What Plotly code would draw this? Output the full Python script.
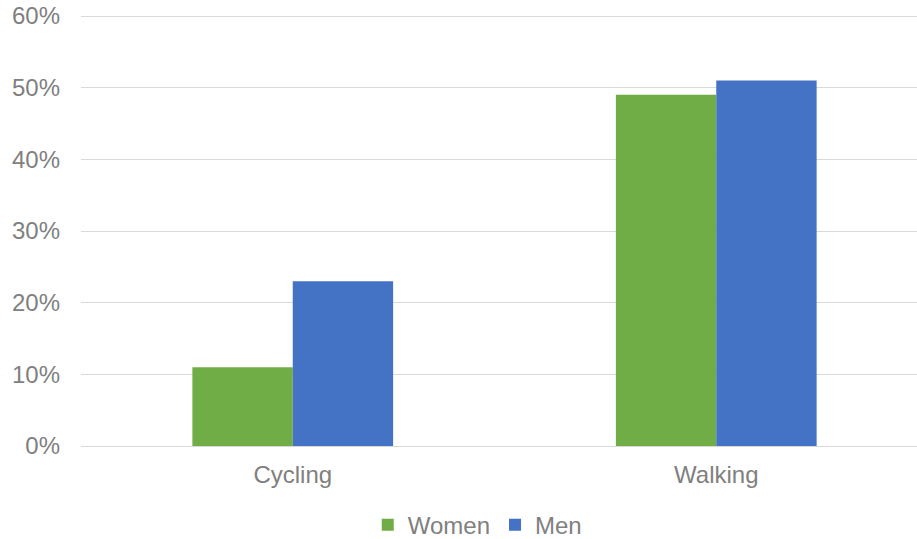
import plotly.graph_objects as go

categories = ["Cycling", "Walking"]
women = [0.11, 0.49]
men = [0.23, 0.51]
y_ticks = [0, 0.1, 0.2, 0.3, 0.4, 0.5, 0.6]

fig = go.Figure()
fig.add_trace(go.Bar(name="Women", x=categories, y=women, marker_color="#70AD47", marker_line_width=0))
fig.add_trace(go.Bar(name="Men", x=categories, y=men, marker_color="#4472C4", marker_line_width=0))

font = dict(family="Liberation Sans, Arial, sans-serif", size=24, color="#808080")
fig.update_layout(
    width=917, height=539,
    margin=dict(l=81, r=0, t=14, b=93, autoexpand=False),
    plot_bgcolor="white", paper_bgcolor="white",
    barmode="group", bargap=0.526, bargroupgap=0,
    font=font,
    showlegend=True,
    legend=dict(orientation="h", x=0.474, xanchor="center", y=-0.183, yanchor="middle",
                font=font, itemwidth=30, traceorder="normal"),
    xaxis=dict(type="category", range=[-0.5, 1.474], showgrid=False, showline=False,
               ticks="", ticklabelstandoff=12, tickfont=font, automargin=False),
    yaxis=dict(range=[0, 0.6028], tickvals=y_ticks, tickformat=".0%", showgrid=True,
               gridcolor="#D9D9D9", gridwidth=1, zeroline=True, zerolinecolor="#D9D9D9",
               zerolinewidth=1, showline=False, ticks="", ticklabelstandoff=20, tickfont=font,
               ticklabeloverflow="allow", automargin=False),
)
fig.write_html(
    "out.html",
    config={"displayModeBar": False, "staticPlot": True},
    post_script="document.body.style.margin='0';document.body.style.overflow='hidden';",
)
